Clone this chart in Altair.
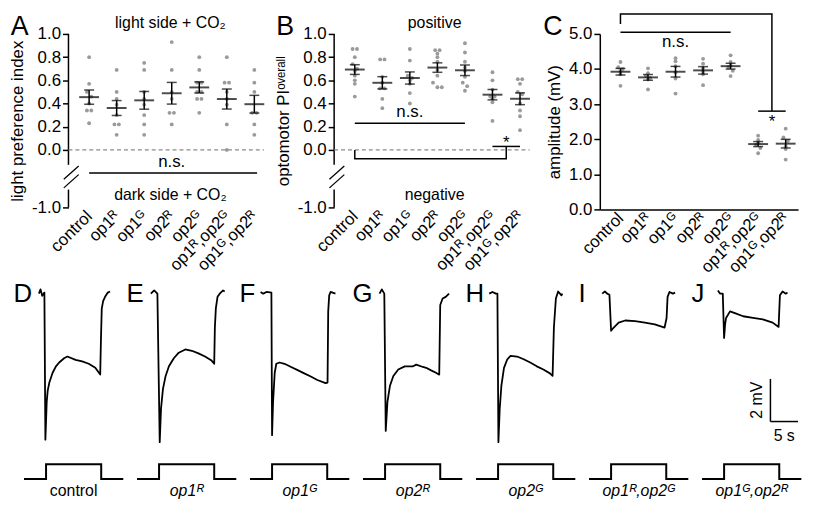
import altair as alt
import pandas as pd

FONT = "Liberation Sans"
DOT = "#9a9a9a"

genotypes = ["control", "op1ᴿ", "op1ᴳ", "op2ᴿ", "op2ᴳ", "op1ᴿ,op2ᴳ", "op1ᴳ,op2ᴿ"]

# ---- Panel A: light preference index ----
A_control = [0.80, 0.57, 0.50, 0.46, 0.40, 0.34, 0.34, 0.23]
A_op1R = [0.69, 0.50, 0.44, 0.39, 0.30, 0.22, 0.22, 0.13]
A_op1G = [0.75, 0.69, 0.50, 0.44, 0.39, 0.30, 0.22, 0.13]
A_op2R = [0.93, 0.69, 0.50, 0.44, 0.32, 0.32, 0.22]
A_op2G = [0.80, 0.69, 0.58, 0.58, 0.50, 0.50, 0.44, 0.44, 0.32]
A_op1R_op2G = [0.80, 0.58, 0.58, 0.50, 0.44, 0.39, 0.22, 0.00]
A_op1G_op2R = [0.69, 0.58, 0.50, 0.32, 0.32, 0.22, 0.13]

# ---- Panel B: optomotor PI overall ----
B_control = [0.87, 0.87, 0.80, 0.74, 0.70, 0.68, 0.64, 0.60, 0.57, 0.46]
B_op1R = [0.78, 0.78, 0.63, 0.58, 0.53, 0.53, 0.44, 0.36]
B_op1G = [0.87, 0.77, 0.64, 0.62, 0.60, 0.57, 0.49, 0.40]
B_op2R = [0.86, 0.86, 0.83, 0.80, 0.76, 0.69, 0.64, 0.58, 0.54, 0.54]
B_op2G = [0.92, 0.84, 0.76, 0.71, 0.68, 0.63, 0.58, 0.55, 0.51]
B_op1R_op2G = [0.67, 0.60, 0.52, 0.46, 0.46, 0.44, 0.41, 0.25]
B_op1G_op2R = [0.61, 0.61, 0.57, 0.50, 0.48, 0.40, 0.34, 0.29, 0.17]

# ---- Panel C: ERG amplitude (mV) ----
C_control = [4.20, 4.05, 4.00, 3.92, 3.85, 3.52]
C_op1R = [4.02, 3.88, 3.80, 3.75, 3.70, 3.42]
C_op1G = [4.31, 4.22, 4.08, 3.90, 3.73, 3.30]
C_op2R = [4.29, 4.15, 4.02, 3.92, 3.85, 3.54]
C_op2G = [4.39, 4.20, 4.10, 4.05, 3.95, 3.80]
C_op1R_op2G = [2.10, 1.98, 1.90, 1.84, 1.75, 1.60]
C_op1G_op2R = [2.30, 2.05, 1.95, 1.80, 1.72, 1.42]

# ---- statistics annotations (data coordinates) ----
A_ns_bar = [0.0, 6.1, -0.40]
A_ns_label = [3.0, -0.21]
B_ns_bar = [0.0, 4.0, 0.23]
B_ns_label = [2.0, 0.33]
B_bracket_x = [0.0, 0.0, 5.5, 5.5]
B_bracket_y = [0.0, -0.155, -0.155, 0.03]
B_sig_bar = [5.0, 6.0, 0.03]
B_star = [5.5, 0.055]
C_bracket_x = [0.0, 0.0, 5.5, 5.5]
C_bracket_y = [5.28, 5.57, 5.57, 2.80]
C_sig_bar = [5.0, 6.0, 2.80]
C_star = [5.5, 2.50]
C_ns_bar = [0.0, 4.0, 5.05]
C_ns_label = [2.0, 4.76]

# ---- ERG traces (time s from light on, mV from baseline) ----
D_t = [-1.3, -1.0, -0.7, -0.3, -0.12, 0.0, 0.12, 0.3, 0.6, 1.19, 1.79, 2.38, 3.27, 3.87, 5.36, 6.55, 7.74, 8.93, 9.82, 9.95, 10.1, 10.35, 10.7, 11.2, 11.6]
D_mv = [0.0, 0.2, -0.1, 0.05, -6.85, -5.98, -5.08, -4.55, -4.17, -3.71, -3.41, -3.23, -3.03, -2.95, -3.11, -3.18, -3.29, -3.48, -3.79, -2.2, -0.7, -0.35, -0.15, 0.05, 0.1]
E_t = [-1.49, -0.89, -0.3, 0.12, 0.36, 0.71, 1.19, 1.79, 2.68, 3.57, 4.76, 5.95, 7.14, 8.33, 9.52, 10.0, 10.12, 10.3, 10.6, 11.0, 11.6, 11.9]
E_mv = [0.0, 0.15, 0.0, -6.97, -5.38, -4.47, -3.86, -3.41, -3.03, -2.77, -2.62, -2.68, -2.8, -2.95, -3.14, -3.29, -1.59, -0.68, -0.15, 0.0, 0.15, 0.1]
F_t = [-2.08, -1.61, -1.01, -0.12, 0.0, 0.18, 0.48, 0.77, 1.37, 2.26, 3.45, 4.64, 5.83, 7.02, 8.21, 9.7, 10.06, 10.18, 10.36, 10.6, 11.49]
F_mv = [0.08, 0.0, 0.08, 0.05, -6.64, -5.08, -3.71, -3.29, -3.23, -3.29, -3.44, -3.59, -3.74, -3.89, -4.05, -4.2, -4.17, -0.83, -0.08, 0.08, 0.0]
G_t = [-1.0, -0.59, -0.14, 0.12, 0.43, 0.89, 1.5, 2.39, 3.57, 5.07, 5.66, 6.86, 7.45, 8.34, 9.23, 9.82, 10.0, 10.43, 11.0, 11.6]
G_mv = [0.0, 0.2, 0.0, -6.44, -5.08, -4.32, -3.86, -3.56, -3.41, -3.41, -3.33, -3.44, -3.48, -3.6, -3.71, -3.8, -0.53, -0.23, -0.15, 0.0]
H_t = [-1.61, -1.01, -0.42, -0.12, 0.06, 0.3, 0.6, 1.07, 1.67, 2.26, 3.45, 4.64, 5.83, 7.02, 8.21, 9.4, 9.88, 10.12, 10.48, 10.89, 11.49, 11.67]
H_mv = [0.0, 0.08, 0.0, 0.0, -6.97, -5.38, -4.32, -3.48, -3.08, -2.92, -2.95, -3.08, -3.23, -3.41, -3.56, -3.74, -3.86, -1.59, -0.23, 0.1, -0.08, 0.0]
I_t = [-1.61, -1.13, -0.71, -0.3, 0.0, 0.48, 1.37, 2.56, 4.35, 6.13, 7.92, 9.7, 10.06, 10.24, 10.6, 11.19, 11.6]
I_mv = [0.0, 0.1, 0.0, -0.05, -1.74, -1.59, -1.36, -1.26, -1.29, -1.36, -1.44, -1.59, -1.14, -0.15, 0.08, 0.0, 0.05]
J_t = [-1.13, -0.71, -0.24, 0.0, 0.18, 0.36, 1.07, 1.96, 3.45, 5.24, 7.02, 8.81, 9.88, 10.12, 10.6, 11.19, 11.49]
J_mv = [0.15, 0.0, 0.0, -2.08, -1.44, -1.14, -0.83, -0.91, -1.06, -1.14, -1.21, -1.36, -1.56, -0.08, 0.1, 0.0, 0.05]

stim_t = [-4.0, 0.0, 0.0, 10.0, 10.0, 14.0]
stim_level = [0, 0, 1, 1, 0, 0]

scalebar_t = [8.4, 13.4]
scalebar_mv = [-4.0, -6.0]

trace_letters = ["D", "E", "F", "G", "H", "I", "J"]

# ---------------------------------------------------------------------------
X_SCALE = alt.Scale(domain=[-0.75, 6.45], nice=False, zero=False)
LABEL_EXPR = "[" + ",".join("'" + g + "'" for g in genotypes) + "][datum.value]"
NEG_EXPR = "datum.value < 0 ? '-' + format(-datum.value, '.1f') : format(datum.value, '.1f')"


def x_axis(domain):
    return alt.Axis(values=list(range(7)), labelExpr=LABEL_EXPR, labelAngle=315,
                    labelAlign="right", labelBaseline="middle", labelFontSize=17,
                    labelFont=FONT, labelColor="black", labelPadding=6,
                    labelOverlap=False, labelFlush=False, labelBound=False,
                    ticks=False, domain=domain, domainColor="black", domainWidth=1.5,
                    grid=False, title=None)


def y_axis(values, title, domain):
    return alt.Axis(values=values, labelExpr=NEG_EXPR, domain=domain, domainColor="black",
                    domainWidth=1.5, ticks=True, tickSize=6, tickWidth=1.5, tickColor="black",
                    labelFontSize=17, labelFont=FONT, labelColor="black", labelPadding=2,
                    labelFlush=False, labelOverlap=False, grid=False, title=title,
                    titleFont=FONT, titleFontSize=17, titleFontWeight="normal",
                    titleColor="black", titlePadding=5)


def swarm_df(groups, binw, step=0.16):
    rows = []
    for i, vals in enumerate(groups):
        bins = {}
        for v in vals:
            bins.setdefault(round(v / binw), []).append(v)
        for members in bins.values():
            n = len(members)
            for k, v in enumerate(members):
                rows.append({"idx": i, "v": v, "xj": i + (k - (n - 1) / 2) * step})
    return pd.DataFrame(rows)


class Panel:
    """Shared scales and axes for every layer in a top panel."""

    def __init__(self, ys, xax, yax):
        self.ys, self.xax, self.yax = ys, xax, yax

    def X(self, f):
        return alt.X(f, scale=X_SCALE, axis=self.xax)

    def Y(self, f):
        return alt.Y(f, scale=self.ys, axis=self.yax)

    def rules(self, segs, color="black", width=1.5, dash=None):
        df = pd.DataFrame(segs, columns=["x", "x2", "y", "y2"])
        kw = dict(color=color, strokeWidth=width)
        if dash:
            kw["strokeDash"] = dash
        return alt.Chart(df).mark_rule(**kw).encode(
            x=self.X("x:Q"), x2="x2:Q", y=self.Y("y:Q"), y2="y2:Q")

    def polyline(self, xs_, ys_):
        df = pd.DataFrame({"x": xs_, "y": ys_, "i": list(range(len(xs_)))})
        return alt.Chart(df).mark_line(color="black", strokeWidth=1.5, strokeJoin="miter").encode(
            x=self.X("x:Q"), y=self.Y("y:Q"), order="i:Q")

    def texts(self, x, y, txt, size, align="center", baseline="middle"):
        df = pd.DataFrame({"x": x, "y": y, "txt": txt})
        return alt.Chart(df).mark_text(font=FONT, fontSize=size, align=align, baseline=baseline,
                                       color="black").encode(
            x=self.X("x:Q"), y=self.Y("y:Q"), text="txt:N")

    def build(self, groups, binw, height, before, after):
        pts = swarm_df(groups, binw)
        base = alt.Chart(pts)
        dots = base.mark_circle(size=15, color=DOT, opacity=1).encode(
            x=self.X("xj:Q"), y=self.Y("v:Q"))
        stats = base.transform_aggregate(m="mean(v)", se="stderr(v)", groupby=["idx"]).transform_calculate(
            lo="datum.m - datum.se", hi="datum.m + datum.se")
        err = stats.mark_rule(color="black", strokeWidth=1.5).encode(
            x=self.X("idx:Q"), y=self.Y("lo:Q"), y2="hi:Q")
        cap_lo = stats.mark_tick(orient="horizontal", size=10, thickness=1.5, color="black").encode(
            x=self.X("idx:Q"), y=self.Y("lo:Q"))
        cap_hi = stats.mark_tick(orient="horizontal", size=10, thickness=1.5, color="black").encode(
            x=self.X("idx:Q"), y=self.Y("hi:Q"))
        mean = stats.mark_tick(orient="horizontal", size=20, thickness=2, color="black").encode(
            x=self.X("idx:Q"), y=self.Y("m:Q"))
        return alt.layer(dots, *before, err, cap_lo, cap_hi, mean, *after).properties(
            width=200, height=height)


AB_SCALE = alt.Scale(domain=[-1, 0, 1], range=[175, 117, 0], nice=False, zero=False)
AB_TICKS = [-1.0, 0.0, 0.2, 0.4, 0.6, 0.8, 1.0]


def broken_axis(p):
    return [
        p.rules([[-0.75, -0.75, -0.26, 1.0], [-0.75, -0.75, -1.0, -0.69]]),
        p.rules([[-0.92, -0.38, -0.51, -0.28], [-0.92, -0.38, -0.66, -0.43]], width=1.3),
        p.rules([[-0.75, 6.35, 0.0, 0.0]], color="#8a8a8a", width=1.2, dash=[4, 3]),
    ]


# Panel A
pA = Panel(AB_SCALE, x_axis(False), y_axis(AB_TICKS, "light preference index", False))
A_groups = [A_control, A_op1R, A_op1G, A_op2R, A_op2G, A_op1R_op2G, A_op1G_op2R]
panel_A = pA.build(
    A_groups, 0.04, 175, broken_axis(pA),
    [
        pA.rules([[A_ns_bar[0], A_ns_bar[1], A_ns_bar[2], A_ns_bar[2]]]),
        pA.texts([A_ns_label[0]], [A_ns_label[1]], ["n.s."], 17),
        pA.texts([2.95, 2.95], [1.09, -0.79], ["light side + CO₂", "dark side + CO₂"], 16),
        pA.texts([-2.85], [0.99], ["A"], 27, align="left", baseline="alphabetic"),
    ])

# Panel B
pB = Panel(AB_SCALE, x_axis(False), y_axis(AB_TICKS, "optomotor PIᵒᵛᵉʳᵃˡˡ", False))
B_groups = [B_control, B_op1R, B_op1G, B_op2R, B_op2G, B_op1R_op2G, B_op1G_op2R]
panel_B = pB.build(
    B_groups, 0.04, 175, broken_axis(pB),
    [
        pB.rules([[B_ns_bar[0], B_ns_bar[1], B_ns_bar[2], B_ns_bar[2]],
                  [B_sig_bar[0], B_sig_bar[1], B_sig_bar[2], B_sig_bar[2]]]),
        pB.polyline(B_bracket_x, B_bracket_y),
        pB.texts([B_ns_label[0]], [B_ns_label[1]], ["n.s."], 17),
        pB.texts([B_star[0]], [B_star[1]], ["*"], 17),
        pB.texts([2.9, 2.9], [1.09, -0.79], ["positive", "negative"], 16),
        pB.texts([-2.85], [0.99], ["B"], 27, align="left", baseline="alphabetic"),
    ])

# Panel C
C_SCALE = alt.Scale(domain=[0, 5], nice=False, zero=False)
pC = Panel(C_SCALE, x_axis(True), y_axis([0, 1, 2, 3, 4, 5], "amplitude (mV)", True))
C_groups = [C_control, C_op1R, C_op1G, C_op2R, C_op2G, C_op1R_op2G, C_op1G_op2R]
panel_C = pC.build(
    C_groups, 0.1, 177, [],
    [
        pC.rules([[C_ns_bar[0], C_ns_bar[1], C_ns_bar[2], C_ns_bar[2]],
                  [C_sig_bar[0], C_sig_bar[1], C_sig_bar[2], C_sig_bar[2]]]),
        pC.polyline(C_bracket_x, C_bracket_y),
        pC.texts([C_ns_label[0]], [C_ns_label[1]], ["n.s."], 17),
        pC.texts([C_star[0]], [C_star[1]], ["*"], 17),
        pC.texts([-2.8], [4.97], ["C"], 27, align="left", baseline="alphabetic"),
    ])

# invisible spacer so that the top row's y-axis sits to the right of the trace row start
spacer = alt.Chart(pd.DataFrame({"x": [0]})).mark_point(opacity=0).encode(
    x=alt.X("x:Q", axis=None), y=alt.Y("x:Q", axis=None)).properties(width=56, height=10)

top_row = alt.hconcat(
    spacer,
    alt.hconcat(panel_A, panel_B, panel_C, spacing=68, bounds="flush"),
    spacing=0, bounds="flush")

# ---------------------------------------------------------------------------
BW, BH = 113.5, 214
PX_MV = 21.5
ZERO_PX = 12
MV_HI = ZERO_PX / PX_MV
MV_LO = MV_HI - BH / PX_MV
STIM_PX, STIM_ZERO = 15.0, 199
S_HI = STIM_ZERO / STIM_PX
S_LO = -(BH - STIM_ZERO) / STIM_PX
T_SCALE = alt.Scale(domain=[-6.0, 14.4], nice=False, zero=False)


def trace_panel(letter, t, mv, label, italic, scalebar=False):
    ys = alt.Scale(domain=[MV_LO, MV_HI], nice=False, zero=False)
    ss = alt.Scale(domain=[S_LO, S_HI], nice=False, zero=False)
    X = lambda f: alt.X(f, scale=T_SCALE, axis=None)
    Ym = lambda f: alt.Y(f, scale=ys, axis=None)
    Ys = lambda f: alt.Y(f, scale=ss, axis=None)

    tr = pd.DataFrame({"t": t, "v": mv, "i": list(range(len(t)))})
    line = alt.Chart(tr).mark_line(color="black", strokeWidth=1.8, strokeJoin="round").encode(
        x=X("t:Q"), y=Ym("v:Q"), order="i:Q")
    let = alt.Chart(pd.DataFrame({"x": [-5.9], "y": [MV_HI - 20 / PX_MV], "txt": [letter]})).mark_text(
        font=FONT, fontSize=26, align="left", baseline="alphabetic", color="black").encode(
        x=X("x:Q"), y=Ym("y:Q"), text="txt:N")
    layers = [line, let]
    if scalebar:
        sb = pd.DataFrame({"x": [scalebar_t[0], scalebar_t[0]], "x2": [scalebar_t[0], scalebar_t[1]],
                           "y": [scalebar_mv[0], scalebar_mv[1]], "y2": [scalebar_mv[1], scalebar_mv[1]]})
        layers.append(alt.Chart(sb).mark_rule(color="black", strokeWidth=1.5).encode(
            x=X("x:Q"), x2="x2:Q", y=Ym("y:Q"), y2="y2:Q"))
        layers.append(alt.Chart(pd.DataFrame({"x": [6.0], "y": [-5.0], "txt": ["2 mV"]})).mark_text(
            font=FONT, fontSize=16, angle=270, color="black", align="center", baseline="middle").encode(
            x=X("x:Q"), y=Ym("y:Q"), text="txt:N"))
        layers.append(alt.Chart(pd.DataFrame({"x": [10.9], "y": [-6.7], "txt": ["5 s"]})).mark_text(
            font=FONT, fontSize=16, color="black", align="center", baseline="middle").encode(
            x=X("x:Q"), y=Ym("y:Q"), text="txt:N"))
    st = pd.DataFrame({"t": stim_t, "s": stim_level, "i": list(range(len(stim_t)))})
    stim = alt.Chart(st).mark_line(color="black", strokeWidth=2).encode(
        x=X("t:Q"), y=Ys("s:Q"), order="i:Q")
    lab = alt.Chart(pd.DataFrame({"x": [5.0], "y": [-0.8], "txt": [label]})).mark_text(
        font=FONT, fontSize=16, fontStyle="italic" if italic else "normal", color="black",
        align="center", baseline="middle").encode(x=X("x:Q"), y=Ys("y:Q"), text="txt:N")
    layers += [stim, lab]
    return alt.layer(*layers).resolve_scale(y="independent").properties(width=BW, height=BH)


traces = [(D_t, D_mv), (E_t, E_mv), (F_t, F_mv), (G_t, G_mv), (H_t, H_mv), (I_t, I_mv), (J_t, J_mv)]
bottom_panels = []
for k, (tt, vv) in enumerate(traces):
    bottom_panels.append(trace_panel(trace_letters[k], tt, vv, genotypes[k], k > 0, scalebar=(k == 6)))

bottom_row = alt.hconcat(*bottom_panels, spacing=0, bounds="flush")

chart = alt.vconcat(top_row, bottom_row, spacing=5).properties(
    padding={"left": 0, "top": 0, "right": 0, "bottom": 0}
).configure(font=FONT).configure_view(stroke=None)

chart.save("out.html", embed_options={"renderer": "svg", "actions": False})
